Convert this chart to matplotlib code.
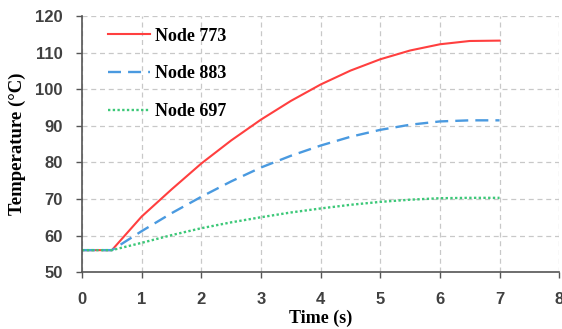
import matplotlib
matplotlib.use('Agg')
import matplotlib.pyplot as plt

# Temperature histories at three nodes
time_s = [0, 0.5, 1, 1.5, 2, 2.5, 3, 3.5, 4, 4.5, 5, 5.5, 6, 6.5, 7]
node_773 = [56, 56, 65.2, 72.6, 79.7, 86.0, 91.7, 96.8, 101.3, 105.1, 108.2, 110.6, 112.3, 113.2, 113.3]
node_883 = [56, 56, 61.2, 66.1, 70.6, 74.8, 78.6, 81.8, 84.6, 87.0, 88.9, 90.3, 91.2, 91.5, 91.5]
node_697 = [56, 56, 58.0, 60.1, 62.0, 63.6, 65.0, 66.3, 67.4, 68.4, 69.2, 69.8, 70.2, 70.3, 70.3]

serif = 'Liberation Serif'

fig = plt.figure(figsize=(5.62, 3.29), dpi=100)
ax = fig.add_axes([0.146, 0.173, 0.849, 0.778])

ax.plot(time_s, node_773, color='#ff3f3f', lw=1.5, ls='-', label='Node 773')
ax.plot(time_s, node_883, color='#4a9ae0', lw=1.7, ls=(0, (5.5, 3)), label='Node 883')
ax.plot(time_s, node_697, color='#3cc878', lw=1.7, ls=(0, (1, 1)), label='Node 697')

ax.set_xlim(0, 8)
ax.set_ylim(50, 120)
ax.set_xticks(range(0, 9))
ax.set_yticks(range(50, 121, 10))

ax.grid(True, color='#c8c8c8', ls=(0, (4, 3)), lw=0.9)
ax.set_axisbelow(True)

for s in ['top', 'right']:
    ax.spines[s].set_visible(False)
for s in ['left', 'bottom']:
    ax.spines[s].set_color('#555555')
    ax.spines[s].set_linewidth(1.2)

ax.tick_params(direction='out', length=4, width=1.0, color='#555555',
               labelsize=12, labelcolor='#404040')
ax.tick_params(axis='y', pad=10)
ax.tick_params(axis='x', pad=10)
for lab in ax.get_xticklabels() + ax.get_yticklabels():
    lab.set_fontweight('bold')
    lab.set_family('Liberation Sans')

ax.set_xlabel('Time (s)', family=serif, fontweight='bold', fontsize=13)
ax.set_ylabel('Temperature (°C)', family=serif, fontweight='bold', fontsize=13.5)
ax.xaxis.set_label_coords(0.5, -0.148)
ax.yaxis.set_label_coords(-0.117, 0.5)

leg = ax.legend(loc='upper left', bbox_to_anchor=(0.023, 1.015), frameon=False,
                handlelength=2.3, labelspacing=1.15, borderaxespad=0.55,
                handletextpad=0.3, borderpad=0.3,
                prop={'family': serif, 'weight': 'bold', 'size': 13})

fig.savefig('out.png', dpi=100)
